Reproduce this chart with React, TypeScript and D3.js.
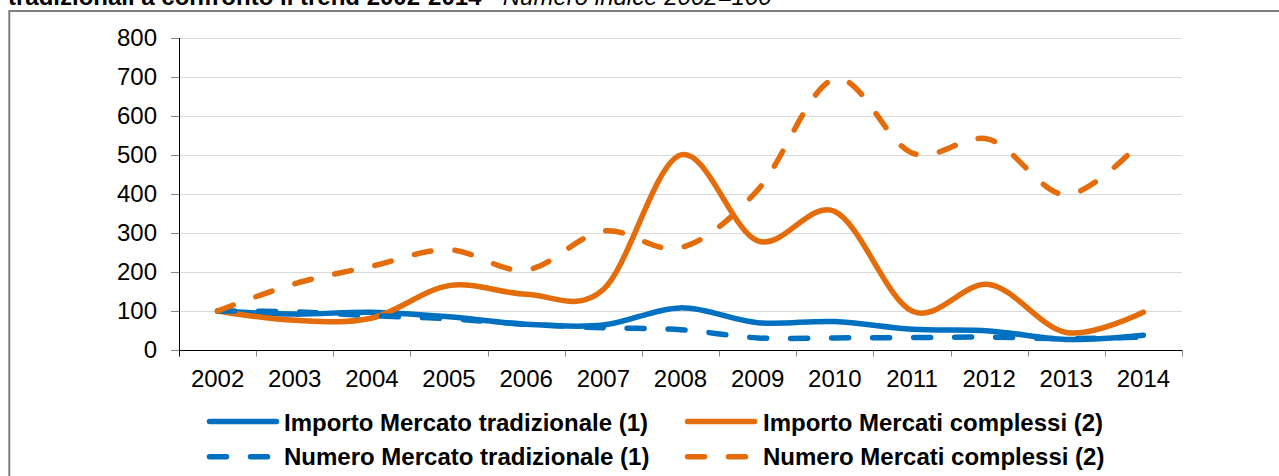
import React from "react";
import * as d3 from "d3";

const years = ["2002","2003","2004","2005","2006","2007","2008","2009","2010","2011","2012","2013","2014"];
const importoTradizionale = [100, 92, 97, 85, 66, 64, 108, 70, 73, 53, 49, 27, 38];
const importoComplessi = [100, 76, 82, 165, 143, 155, 500, 280, 355, 100, 168, 45, 97];
const numeroTradizionale = [100, 98, 88, 80, 66, 57, 52, 31, 31, 32, 33, 29, 33];
const numeroComplessi = [100, 170, 215, 257, 205, 305, 262, 410, 695, 505, 540, 398, 540];
const yTicks = [0, 100, 200, 300, 400, 500, 600, 700, 800];

const series = [
  { name: "Importo Mercato tradizionale (1)", values: importoTradizionale, color: "#0070C0", dashed: false },
  { name: "Importo Mercati complessi (2)", values: importoComplessi, color: "#E46C0A", dashed: false },
  { name: "Numero Mercato tradizionale (1)", values: numeroTradizionale, color: "#0070C0", dashed: true },
  { name: "Numero Mercati complessi (2)", values: numeroComplessi, color: "#E46C0A", dashed: true },
];

const FONT = "'Liberation Sans', Arial, sans-serif";

export default function App() {
  const x = d3.scaleBand<string>().domain(years).range([179, 1182]).paddingInner(0).paddingOuter(0);
  const y = d3.scaleLinear().domain([0, 800]).range([350, 38]);
  const bw = x.bandwidth();
  const cx = (i: number) => (x(years[i]) as number) + bw / 2;
  const line = d3
    .line<number>()
    .x((_, i) => cx(i))
    .y((d) => y(d))
    .curve(d3.curveCardinal.tension(0));

  const boundaries = years.map((yr) => x(yr) as number).concat([1182]);
  const dash = "17 24";
  const sw = 5.5;

  const legendItems = [
    { s: series[0], lx: 209.5, tx: 284, cy: 421.5, ty: 430.5 },
    { s: series[1], lx: 687.5, tx: 763, cy: 421.5, ty: 430.5 },
    { s: series[2], lx: 209.5, tx: 284, cy: 456.7, ty: 464.5 },
    { s: series[3], lx: 687.5, tx: 763, cy: 456.7, ty: 464.5 },
  ];

  return (
    <svg
      width={1279}
      height={476}
      style={{ position: "absolute", left: 0, top: 0, display: "block", background: "#fff" }}
      fontFamily={FONT}
    >
      <text x={8} y={5} fontSize={24} fill="#000">
        <tspan fontWeight="bold">tradizionali a confronto il trend 2002-2014</tspan>
        <tspan fontStyle="italic"> - Numero indice 2002=100</tspan>
      </text>
      <rect x={9.3} y={11} width={1400} height={600} fill="#fff" stroke="#7f7f7f" strokeWidth={2} />

      {yTicks.filter((t) => t > 0).map((t) => (
        <line key={"g" + t} x1={179} x2={1182} y1={Math.round(y(t)) + 0.5} y2={Math.round(y(t)) + 0.5} stroke="#d9d9d9" strokeWidth={1} />
      ))}

      {yTicks.map((t) => (
        <g key={"yt" + t}>
          <line x1={171} x2={179} y1={Math.round(y(t)) + 0.5} y2={Math.round(y(t)) + 0.5} stroke="#868686" strokeWidth={1} />
          <text x={157} y={y(t)} dy="0.35em" textAnchor="end" fontSize={24} fill="#000">
            {t}
          </text>
        </g>
      ))}

      {boundaries.map((b, i) => (
        <line key={"xt" + i} x1={Math.round(b) + 0.5} x2={Math.round(b) + 0.5} y1={350} y2={356.5} stroke="#868686" strokeWidth={1} />
      ))}

      <line x1={179.5} x2={179.5} y1={38} y2={356.5} stroke="#000" strokeWidth={1} />
      <line x1={179} x2={1182} y1={350.5} y2={350.5} stroke="#000" strokeWidth={1} />

      {years.map((yr, i) => (
        <text key={"xl" + yr} x={cx(i)} y={387} textAnchor="middle" fontSize={24} fill="#000">
          {yr}
        </text>
      ))}

      {series.map((s) => (
        <path
          key={s.name}
          d={line(s.values) || ""}
          fill="none"
          stroke={s.color}
          strokeWidth={sw}
          strokeLinecap="round"
          strokeLinejoin="round"
          strokeDasharray={s.dashed ? dash : undefined}
        />
      ))}

      {legendItems.map((it) => (
        <g key={"lg" + it.s.name}>
          <line
            x1={it.lx}
            x2={it.lx + (it.s.dashed ? 58.5 : 67)}
            y1={it.cy}
            y2={it.cy}
            stroke={it.s.color}
            strokeWidth={sw}
            strokeLinecap="round"
            strokeDasharray={it.s.dashed ? dash : undefined}
          />
          <text x={it.tx} y={it.ty} fontSize={24} fontWeight="bold" fill="#000">
            {it.s.name}
          </text>
        </g>
      ))}
    </svg>
  );
}
